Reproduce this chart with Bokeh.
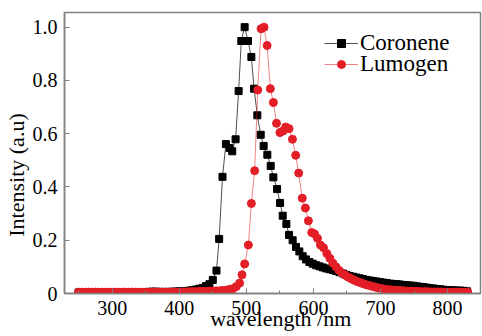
from bokeh.plotting import figure
from bokeh.models import Range1d, FixedTicker, Legend
from bokeh.embed import file_html
from bokeh.resources import INLINE

# ---- data ----
cor_x = [250,255,260,265,270,275,280,285,290,295,300,305,310,315,320,325,330,335,340,345,
         350,355,360,365,370,375,380,385,390,395,400,405,410,415,420,425,430,435,440,445,
         450,455.5,459.5,464.5,469.5,475,479,484,488.5,492.5,497.5,502.5,507.5,511.5,516.4,
         521.4,525.8,531.3,536.3,540.3,545.8,550.3,554.2,559.7,563.7,569,574,579,584,589,
         594,599,604,609,614,619,624,629,634,639,644,649,654,659,664,669,674,679,684,689,
         694,699,704,709,714,719,724,729,734,739,744,749,754,759,764,769,774,779,784,789,
         794,799,804,809,814,819,824,829]
cor_y = [.004,.004,.004,.005,.004,.004,.005,.004,.004,.004,.004,.004,.005,.004,.004,.004,.004,.005,.004,.004,
         .005,.006,.007,.007,.006,.006,.006,.006,.007,.007,.008,.008,.009,.011,.013,.015,.018,.021,.028,.035,
         .051,.086,.205,.438,.561,.546,.534,.579,.760,.948,1.0,.948,.888,.769,.669,
         .596,.554,.521,.479,.436,.392,.340,.292,.261,.220,.200,.175,.158,.140,.128,
         .118,.112,.106,.102,.098,.094,.091,.088,.084,.080,.075,.070,.066,.063,.060,.057,.054,.051,.049,.047,
         .045,.043,.041,.039,.037,.036,.035,.034,.032,.031,.030,.029,.027,.025,.024,.022,.020,.019,.017,.016,
         .014,.013,.012,.012,.011,.011,.010,.008]

lum_x = [250,255,260,265,270,275,280,285,290,295,300,305,310,315,320,325,330,335,340,345,
         350,355,360,365,370,375,380,385,390,395,400,405,410,415,420,425,430,435,440,445,
         450,455,460,464,468,472.5,476.5,480,485,490,493.6,497.5,503,507.5,512.4,517,522,
         526.4,531,535.8,540.3,545,550,554.7,558.7,563.7,568.7,573.6,578,583.3,588,592.5,
         597.5,601.5,606,610.5,615,620,624.5,629,633.5,638,642.5,647,651.5,656,660.5,665,
         669.5,674,678.5,683,687.5,692,696.5,701,705.5,710,715,720,725,730,735,740,745,750,
         755,760,765,770,775,780,785,790,795,800,805,810,815,820,825,830]
lum_y = [.005,.005,.005,.005,.005,.005,.005,.005,.005,.005,.005,.005,.005,.005,.005,.005,.005,.005,.005,.005,
         .005,.005,.005,.005,.005,.005,.005,.005,.005,.005,.005,.006,.006,.007,.007,.007,.008,.008,.008,.009,
         .009,.010,.010,.011,.012,.014,.016,.018,.026,.039,.070,.111,.182,.338,.461,.764,.994,
         1.0,.931,.769,.717,.639,.604,.610,.625,.619,.579,.519,.452,.358,.321,.273,
         .229,.224,.207,.182,.172,.150,.132,.114,.100,.087,.077,.069,.062,.056,.050,.045,
         .041,.037,.033,.030,.027,.024,.021,.019,.017,.015,.014,.013,.012,.011,.010,.009,.009,.008,
         .008,.007,.007,.007,.006,.006,.006,.006,.005,.005,.005,.005,.005,.005,.005,.005]

x_major = [300, 400, 500, 600, 700, 800]
x_minor = [250, 350, 450, 550, 650, 750, 850]
y_major = [0, 0.2, 0.4, 0.6, 0.8, 1.0]
y_labels = {0: "0", 1: "1.0"}

FONT = "'Liberation Serif', serif"
RED = "#e41e26"
GRAY = "#808080"
NB = "\u00a0"

p = figure(width=482, height=336, output_backend="svg", toolbar_location=None,
           x_range=Range1d(229, 849), y_range=Range1d(0, 1.055),
           min_border_left=63, min_border_right=2, min_border_top=12, min_border_bottom=43)
p.background_fill_color = "white"
p.border_fill_color = "white"
p.outline_line_color = GRAY
p.outline_line_width = 1.5
p.xgrid.visible = False
p.ygrid.visible = False

l1 = p.line(cor_x, cor_y, line_color="#222222", line_width=0.8)
s1 = p.scatter(cor_x, cor_y, marker="square", size=7, fill_color="black", line_color="black")
l2 = p.line(lum_x, lum_y, line_color=RED, line_width=0.8, line_alpha=0.7)
s2 = p.scatter(lum_x, lum_y, marker="circle", size=8, fill_color=RED, line_color=RED)

xa = p.xaxis[0]
xa.ticker = FixedTicker(ticks=x_major, minor_ticks=x_minor)
ya = p.yaxis[0]
ya.ticker = FixedTicker(ticks=y_major, minor_ticks=[])
ya.major_label_overrides = y_labels
for ax in (xa, ya):
    ax.axis_line_color = GRAY
    ax.axis_line_width = 1.5
    ax.major_tick_line_color = GRAY
    ax.minor_tick_line_color = GRAY
    ax.major_tick_in = 5
    ax.major_tick_out = 0
    ax.minor_tick_in = 3
    ax.minor_tick_out = 0
    ax.major_label_text_font = FONT
    ax.major_label_text_font_size = "20px"
    ax.major_label_text_color = "black"
    ax.axis_label_text_font = FONT
    ax.axis_label_text_font_size = "22px"
    ax.axis_label_text_font_style = "normal"
    ax.axis_label_text_color = "black"
xa.major_label_standoff = 7
ya.major_label_standoff = 7
xa.axis_label = NB * 3 + "wavelength /nm"
xa.axis_label_standoff = -12
ya.axis_label = "Intensity (a.u)" + NB * 8
ya.axis_label_standoff = 1


def make_legend(label, renderers, y):
    lg = Legend(items=[(label, renderers)], location=(260, y))
    lg.label_text_font = FONT
    lg.label_text_font_size = "23px"
    lg.label_text_color = "black"
    lg.glyph_width = 34
    lg.glyph_height = 20
    lg.label_height = 20
    lg.label_standoff = 2
    lg.padding = 0
    lg.margin = 0
    lg.border_line_color = None
    lg.background_fill_alpha = 0
    return lg


p.add_layout(make_legend("Coronene", [l1, s1], 237), "center")
p.add_layout(make_legend("Lumogen", [l2, s2], 216), "center")

open("out.html", "w").write(file_html(p, INLINE))
